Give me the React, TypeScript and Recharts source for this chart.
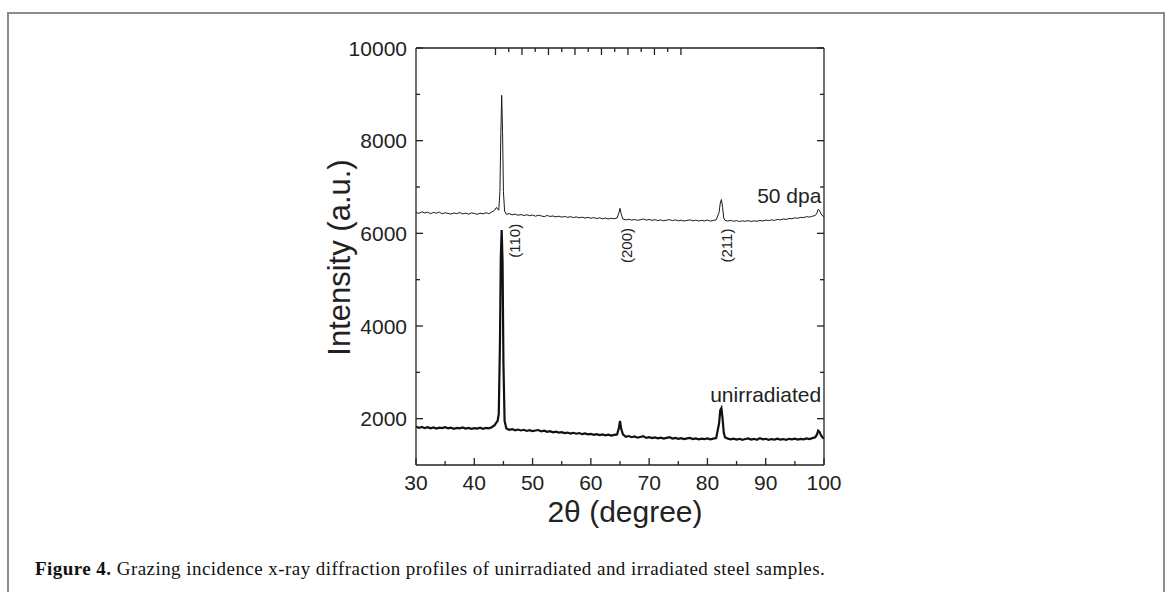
import { LineChart, Line, XAxis, YAxis, ReferenceDot, Label } from 'recharts';

// 2θ positions (degrees), denser around the Bragg peaks
const twoTheta = [
  30, 30.5, 31, 31.5, 32, 32.5, 33, 33.5, 34, 34.5, 35, 35.5, 36, 36.5, 37, 37.5, 38, 38.5, 39, 39.5,
  40, 40.5, 41, 41.5, 42, 42.5, 43, 43.5,
  43.8, 44.0, 44.2, 44.4, 44.55, 44.7, 44.85, 45.0, 45.2,
  45.5, 46, 46.5, 47, 47.5, 48, 48.5, 49, 49.5, 50, 50.5, 51, 51.5, 52, 52.5, 53, 53.5, 54, 54.5, 55,
  55.5, 56, 56.5, 57, 57.5, 58, 58.5, 59, 59.5, 60, 60.5, 61, 61.5, 62, 62.5, 63, 63.5, 64, 64.5,
  64.8, 65.0, 65.2,
  65.5, 66, 66.5, 67, 67.5, 68, 68.5, 69, 69.5, 70, 70.5, 71, 71.5, 72, 72.5, 73, 73.5, 74, 74.5, 75,
  75.5, 76, 76.5, 77, 77.5, 78, 78.5, 79, 79.5, 80, 80.5, 81, 81.5,
  82.0, 82.2, 82.4, 82.6, 82.8,
  83, 83.5, 84, 84.5, 85, 85.5, 86, 86.5, 87, 87.5, 88, 88.5, 89, 89.5, 90, 90.5, 91, 91.5, 92, 92.5,
  93, 93.5, 94, 94.5, 95, 95.5, 96, 96.5, 97, 97.5, 98, 98.5,
  98.8, 99.0, 99.2, 99.5, 99.8, 100,
];

const dpa50 = [
  6450, 6430, 6465, 6440, 6455, 6425, 6450, 6435, 6460, 6420, 6445, 6430, 6415, 6440, 6425, 6450, 6420, 6435, 6415, 6440,
  6430, 6410, 6435, 6420, 6445, 6425, 6460, 6500,
  6560, 6520, 6500, 6900, 8100, 8980, 8200, 6900, 6480,
  6410, 6425, 6400, 6415, 6390, 6405, 6385, 6400, 6380, 6395, 6370, 6390, 6375, 6360, 6385, 6365, 6375, 6355, 6370, 6350,
  6365, 6345, 6360, 6340, 6355, 6335, 6350, 6330, 6345, 6325, 6340, 6320, 6335, 6315, 6330, 6310, 6325, 6315, 6330,
  6440, 6540, 6420,
  6310, 6290, 6305, 6285, 6300, 6280, 6295, 6310, 6285, 6300, 6280, 6295, 6275, 6290, 6270, 6285, 6295, 6275, 6290, 6270,
  6285, 6265, 6280, 6290, 6270, 6285, 6265, 6280, 6270, 6285, 6265, 6280, 6290,
  6450, 6650, 6730, 6560, 6330,
  6280, 6265, 6280, 6260, 6275, 6255, 6270, 6260, 6275, 6255, 6270, 6260, 6280, 6265, 6285, 6275, 6290, 6280, 6300, 6290,
  6310, 6300, 6320, 6315, 6335, 6325, 6345, 6340, 6360, 6350, 6370, 6385,
  6440, 6520, 6500, 6420, 6370, 6360,
];

const unirradiated = [
  1830, 1800, 1820, 1795, 1815, 1790, 1810, 1785, 1805, 1795, 1815, 1790, 1805, 1780, 1800, 1790, 1810, 1785, 1800, 1780,
  1795, 1785, 1805, 1780, 1800, 1790, 1815, 1860,
  1920, 1950, 2100, 3600, 5500, 6070, 5400, 3200, 1950,
  1790, 1760, 1775, 1750, 1765, 1745, 1760, 1735, 1750, 1730, 1745, 1755, 1725, 1740, 1715, 1730, 1705, 1720, 1700, 1710,
  1690, 1700, 1680, 1695, 1675, 1690, 1665, 1680, 1660, 1670, 1650, 1665, 1645, 1660, 1640, 1655, 1635, 1650, 1660,
  1800, 1950, 1780,
  1660, 1610, 1625, 1600, 1615, 1590, 1605, 1620, 1585, 1600, 1580, 1595, 1575, 1590, 1570, 1585, 1600, 1570, 1585, 1565,
  1580, 1560, 1575, 1585, 1560, 1575, 1555, 1570, 1560, 1575, 1555, 1570, 1580,
  1900, 2180, 2230, 2000, 1700,
  1600, 1570, 1555, 1570, 1550, 1565, 1545, 1560, 1575, 1550, 1565, 1545, 1580, 1555, 1565, 1545, 1560, 1550, 1570, 1550,
  1560, 1545, 1565, 1555, 1570, 1550, 1565, 1555, 1575, 1560, 1580, 1600,
  1660, 1740, 1720, 1640, 1590, 1570,
];

const xTicks = [30, 35, 40, 45, 50, 55, 60, 65, 70, 75, 80, 85, 90, 95, 100];
const yTicks = [2000, 3000, 4000, 5000, 6000, 7000, 8000, 9000, 10000];

// peak labels: [text, 2θ, intensity]
const peakLabels: [string, number, number][] = [
  ['(110)', 46.9, 5840],
  ['(200)', 66.06, 5737],
  ['(211)', 83.26, 5737],
];

const rows = twoTheta.map((t, i) => ({ t, dpa50: dpa50[i], unirradiated: unirradiated[i] }));

const AXIS = '#222';
const FONT = '"Liberation Sans", Arial, sans-serif';

function BottomTick(props: any) {
  const { x, y, payload } = props;
  const major = payload.value % 10 === 0;
  return (
    <g>
      <line x1={x} x2={x} y1={y} y2={y - (major ? 7 : 4)} stroke={AXIS} strokeWidth={1.3} />
      {major && (
        <text x={x} y={y + 25} textAnchor="middle" fontSize={21} fill={AXIS} fontFamily={FONT}>
          {payload.value}
        </text>
      )}
    </g>
  );
}

function TopTick(props: any) {
  const { x, y, payload } = props;
  const major = payload.value % 10 === 0;
  return <line x1={x} x2={x} y1={y} y2={y + (major ? 7 : 4)} stroke={AXIS} strokeWidth={1.3} />;
}

function LeftTick(props: any) {
  const { x, y, payload } = props;
  const major = payload.value % 2000 === 0;
  return (
    <g>
      <line x1={x} x2={x + (major ? 7 : 4)} y1={y} y2={y} stroke={AXIS} strokeWidth={1.3} />
      {major && (
        <text x={x - 9} y={y + 7.5} textAnchor="end" fontSize={21} fill={AXIS} fontFamily={FONT}>
          {payload.value}
        </text>
      )}
    </g>
  );
}

function RightTick(props: any) {
  const { x, y, payload } = props;
  const major = payload.value % 2000 === 0;
  return <line x1={x} x2={x - (major ? 7 : 4)} y1={y} y2={y} stroke={AXIS} strokeWidth={1.3} />;
}

export default function App() {
  return (
    <div style={{ position: 'absolute', left: 0, top: 0, width: 1170, height: 592, overflow: 'hidden', background: '#fff' }}>
      <div
        style={{
          position: 'absolute',
          left: 7,
          top: 12,
          width: 1158,
          height: 580,
          boxSizing: 'border-box',
          borderTop: '2px solid #8c8c8c',
          borderLeft: '2px solid #8c8c8c',
          borderRight: '2px solid #8c8c8c',
        }}
      />
      <div style={{ position: 'absolute', left: 0, top: 0 }}>
        <LineChart width={1170} height={592} data={rows} margin={{ top: 38, right: 336, bottom: 67, left: 356 }}>
          <XAxis
            xAxisId="b"
            dataKey="t"
            type="number"
            domain={[30, 100]}
            allowDataOverflow
            ticks={xTicks}
            interval={0}
            height={60}
            tickSize={0}
            tickMargin={0}
            tickLine={false}
            tick={<BottomTick />}
            axisLine={{ stroke: AXIS, strokeWidth: 1.3 }}
          >
            <Label
              content={({ viewBox }: any) => (
                <text
                  x={viewBox.x + viewBox.width / 2 + 5}
                  y={viewBox.y + 57}
                  textAnchor="middle"
                  fontSize={30}
                  fill={AXIS}
                  fontFamily={FONT}
                >
                  2θ (degree)
                </text>
              )}
            />
          </XAxis>
          <XAxis
            xAxisId="top"
            orientation="top"
            type="number"
            domain={[30, 100]}
            allowDataOverflow
            ticks={xTicks}
            interval={0}
            height={10}
            tickSize={0}
            tickMargin={0}
            tickLine={false}
            tick={<TopTick />}
            axisLine={{ stroke: AXIS, strokeWidth: 1.3 }}
          />
          <YAxis
            yAxisId="l"
            type="number"
            domain={[1000, 10000]}
            allowDataOverflow
            ticks={yTicks}
            interval={0}
            width={60}
            tickSize={0}
            tickMargin={0}
            tickLine={false}
            tick={<LeftTick />}
            axisLine={{ stroke: AXIS, strokeWidth: 1.3 }}
          >
            <Label
              content={({ viewBox }: any) => {
                const cx = viewBox.x + viewBox.width - 77;
                const cy = viewBox.y + viewBox.height / 2 + 1;
                return (
                  <text
                    x={cx}
                    y={cy}
                    textAnchor="middle"
                    dominantBaseline="central"
                    fontSize={31}
                    fill={AXIS}
                    fontFamily={FONT}
                    transform={`rotate(-90, ${cx}, ${cy})`}
                  >
                    Intensity (a.u.)
                  </text>
                );
              }}
            />
          </YAxis>
          <YAxis
            yAxisId="r"
            orientation="right"
            type="number"
            domain={[1000, 10000]}
            allowDataOverflow
            ticks={yTicks}
            interval={0}
            width={10}
            tickSize={0}
            tickMargin={0}
            tickLine={false}
            tick={<RightTick />}
            axisLine={{ stroke: AXIS, strokeWidth: 1.3 }}
          />
          <Line
            xAxisId="b"
            yAxisId="l"
            type="linear"
            dataKey="dpa50"
            stroke="#1a1a1a"
            strokeWidth={1}
            dot={false}
            isAnimationActive={false}
          />
          <Line
            xAxisId="b"
            yAxisId="l"
            type="linear"
            dataKey="unirradiated"
            stroke="#111"
            strokeWidth={2.2}
            dot={false}
            isAnimationActive={false}
          />
          <ReferenceDot
            xAxisId="b"
            yAxisId="l"
            x={99.55}
            y={6654}
            r={0}
            label={({ viewBox }: any) => (
              <text x={viewBox.x} y={viewBox.y} textAnchor="end" fontSize={21} fill={AXIS} fontFamily={FONT}>
                50 dpa
              </text>
            )}
          />
          <ReferenceDot
            xAxisId="b"
            yAxisId="l"
            x={99.5}
            y={2367}
            r={0}
            label={({ viewBox }: any) => (
              <text x={viewBox.x} y={viewBox.y} textAnchor="end" fontSize={21} fill={AXIS} fontFamily={FONT}>
                unirradiated
              </text>
            )}
          />
          {peakLabels.map(([text, t, v]) => (
            <ReferenceDot
              key={text}
              xAxisId="b"
              yAxisId="l"
              x={t}
              y={v}
              r={0}
              label={({ viewBox }: any) => (
                <text
                  x={viewBox.x}
                  y={viewBox.y}
                  textAnchor="middle"
                  dominantBaseline="central"
                  fontSize={15}
                  fill={AXIS}
                  fontFamily={FONT}
                  transform={`rotate(-90, ${viewBox.x}, ${viewBox.y})`}
                >
                  {text}
                </text>
              )}
            />
          ))}
        </LineChart>
      </div>
      <div
        style={{
          position: 'absolute',
          left: 35,
          top: 559,
          fontFamily: '"Liberation Serif", "DejaVu Serif", serif',
          fontSize: 19,
          lineHeight: '19px',
          letterSpacing: '0.45px',
          color: '#111',
          whiteSpace: 'nowrap',
        }}
      >
        <b>Figure 4.</b> Grazing incidence x-ray diffraction profiles of unirradiated and irradiated steel samples.
      </div>
    </div>
  );
}
